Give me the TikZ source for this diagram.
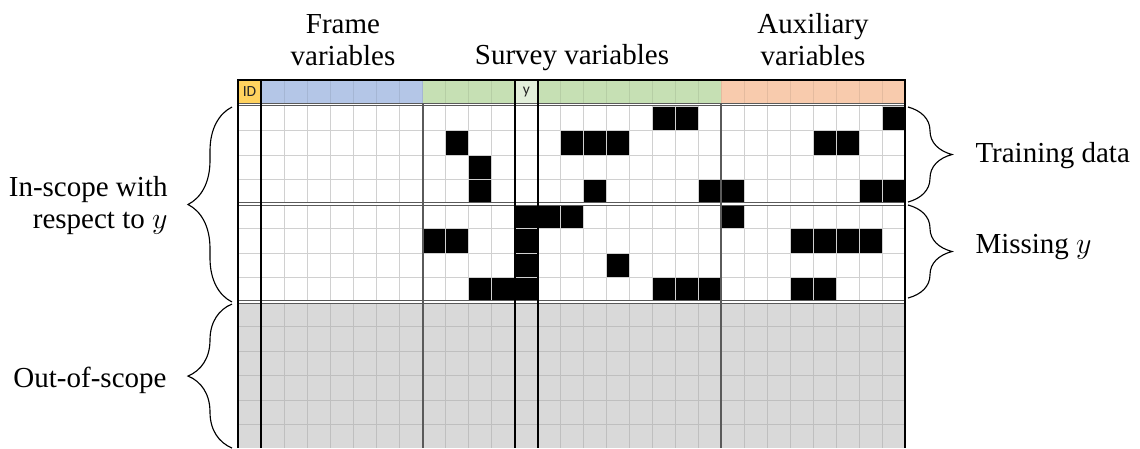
\documentclass[tikz,border=0pt]{standalone}
\usepackage{fontspec}
\setmainfont{Liberation Serif}
\newfontfamily\cellfont{Carlito}
\usetikzlibrary{decorations.pathreplacing,positioning}
\definecolor{idgold}{HTML}{FFD25F}
\definecolor{frameblue}{HTML}{B4C6E7}
\definecolor{surveygreen}{HTML}{C6E0B4}
\definecolor{ygreen}{HTML}{E2EFDA}
\definecolor{auxorange}{HTML}{F8CBAD}
\definecolor{outgray}{HTML}{D9D9D9}
\definecolor{gridgray}{HTML}{D0D0D0}
\definecolor{outgrid}{HTML}{BFBFBF}
\definecolor{groupgray}{HTML}{5A5A5A}
\tikzset{
  grouptext/.style={font=\fontsize{11.6}{12.8}\selectfont,align=center,inner sep=0pt},
  sidetext/.style={font=\fontsize{11.6}{12.8}\selectfont,inner sep=0pt},
  celltext/.style={font=\cellfont\fontsize{6.2}{7}\selectfont,inner sep=0pt,black!85},
  cellgrid/.style={gridgray,line width=0.4pt},
  hdrgrid/.style={black,draw opacity=0.08,line width=0.4pt},
  outline/.style={outgrid,line width=0.4pt},
  rowsplit/.style={groupgray,line width=0.4pt,double=white,double distance=0.45pt},
  groupline/.style={groupgray,line width=0.55pt},
  idline/.style={black,line width=0.55pt},
  border/.style={black,line width=0.8pt},
  blackcell/.style={fill=black,draw=gridgray,line width=0.3pt},
  curly/.style={decorate,decoration={brace,amplitude=17.6pt},line width=0.45pt}
}

\begin{document}
\begin{tikzpicture}[x=0.4pt,y=-0.4pt]
  \useasboundingbox (0,0) rectangle (1140,448);

  % header row
  \fill[idgold] (238,80) rectangle (261,104);
  \fill[frameblue] (261,80) rectangle (423,104);
  \fill[surveygreen] (423,80) rectangle (515,104);
  \fill[ygreen] (515,80) rectangle (538,104);
  \fill[surveygreen] (538,80) rectangle (721,104);
  \fill[auxorange] (721,80) rectangle (905,104);
  \foreach \c in {2,...,28}
    \draw[hdrgrid] (238+23*\c,80) -- (238+23*\c,104);
  \node[celltext] (idtext) at (249.5,92) {ID};
  \node[celltext] (ytext) at (526.5,92) {y};

  % out-of-scope block
  \fill[outgray] (238,302) rectangle (905,448);

  % cell grid
  \foreach \c in {1,...,28} {
    \draw[cellgrid] (238+23*\c,106) -- (238+23*\c,302);
    \draw[outline] (238+23*\c,302) -- (238+23*\c,448);
  }
  \foreach \r in {1,2,3,5,6,7}
    \draw[cellgrid] (238,106+24.5*\r) -- (905,106+24.5*\r);
  \foreach \r in {1,...,5}
    \draw[outline] (238,302+24.5*\r) -- (905,302+24.5*\r);

  % observed / missing values
  \foreach \c/\r in {18/1,19/1,28/1,
                     9/2,14/2,15/2,16/2,25/2,26/2,
                     10/3,
                     10/4,15/4,20/4,21/4,27/4,28/4,
                     12/5,13/5,14/5,21/5,
                     8/6,9/6,12/6,24/6,25/6,26/6,27/6,
                     12/7,16/7,
                     10/8,11/8,12/8,18/8,19/8,20/8,24/8,25/8}
    \draw[blackcell] (238+23*\c,81.5+24.5*\r) rectangle ++(23,24.5);

  % row splits
  \draw[rowsplit] (238,104.5) -- (905,104.5);
  \draw[rowsplit] (238,204) -- (905,204);
  \draw[rowsplit] (238,302) -- (905,302);

  % column groups
  \draw[idline] (261,80) -- (261,448);
  \draw[groupline] (423,104) -- (423,448);
  \draw[idline] (515,80) -- (515,448);
  \draw[idline] (538,80) -- (538,448);
  \draw[groupline] (721,104) -- (721,448);
  \draw[border] (238,448) -- (238,80) -- (905,80) -- (905,448);

  % column labels
  \node[grouptext] (framevars) at (343,40) {Frame\\variables};
  \node[grouptext,anchor=base] (surveyvars) at (572,64) {Survey variables};
  \node[grouptext] (auxvars) at (813,40) {Auxiliary\\variables};

  % row labels and braces
  \coordinate (inscopetop) at (232,107);
  \coordinate (inscopebot) at (232,302);
  \coordinate (outtop) at (232,304);
  \coordinate (outbot) at (232,448);
  \coordinate (traintop) at (908,107);
  \coordinate (trainbot) at (908,202);
  \coordinate (misstop) at (908,205);
  \coordinate (missbot) at (908,298);
  \draw[curly] (inscopebot) -- (inscopetop);
  \draw[curly] (outbot) -- (outtop);
  \draw[curly] (traintop) -- (trainbot);
  \draw[curly] (misstop) -- (missbot);
  \node[sidetext,align=right,anchor=east] (inscope) at (168,206) {In-scope with\\respect to $y$};
  \node[sidetext,anchor=east] (outscope) at (167,380) {Out-of-scope};
  \node[sidetext,anchor=west] (train) at (975,156) {Training data};
  \node[sidetext,anchor=west] (missy) at (975,247) {Missing $y$};
\end{tikzpicture}
\end{document}
